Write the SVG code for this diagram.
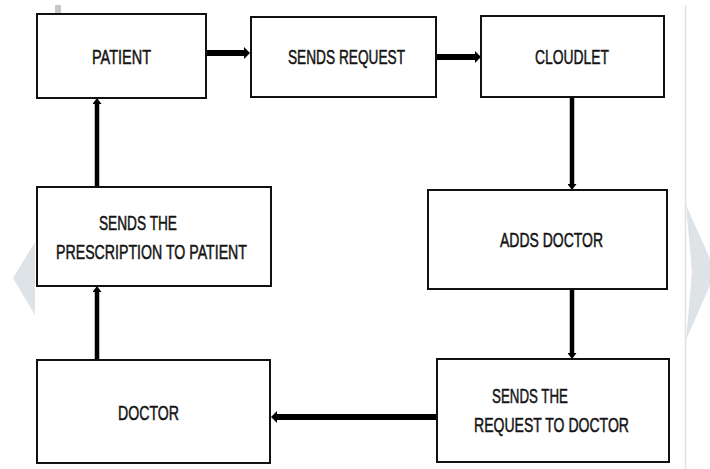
<svg xmlns="http://www.w3.org/2000/svg" width="710" height="469" viewBox="0 0 710 469">
<style>
.box{fill:#fff;stroke:#111;stroke-width:2}
.t{font-family:"Liberation Sans",Arial,sans-serif;font-size:20.5px;fill:#141414;stroke:#141414;stroke-width:0.5}
.h{stroke:#000;stroke-width:6;fill:none}
.v{stroke:#000;stroke-width:4.5;fill:none}
.deco{fill:#dde3e6}
</style>
<defs>
<marker id="ah" markerUnits="userSpaceOnUse" markerWidth="6" markerHeight="12" refX="0" refY="6" orient="auto" viewBox="0 0 6 12">
<path d="M0,0 L6,6 L0,12 z" fill="#000"/>
</marker>
<marker id="av" markerUnits="userSpaceOnUse" markerWidth="6" markerHeight="9" refX="0" refY="4.5" orient="auto" viewBox="0 0 6 9">
<path d="M0,0 L6,4.5 L0,9 z" fill="#000"/>
</marker>
</defs>
<g id="background">
<rect x="0" y="0" width="710" height="469" fill="#fff"/>
<polygon class="deco" points="35,242 13,278 35,315"/>
<polygon class="deco" points="686,205 716,272 686,340 692,272"/>
<line x1="685.5" y1="5" x2="685.5" y2="469" stroke="#e2e2e2" stroke-width="1.5"/>
<rect x="55" y="5" width="6" height="9" fill="#c8c8c8"/>
</g>
<g id="connectors">
<line class="h" x1="207" y1="53" x2="244" y2="53" marker-end="url(#ah)"/>
<line class="h" x1="437" y1="57" x2="475" y2="57" marker-end="url(#ah)"/>
<line class="v" x1="572" y1="98" x2="572" y2="184" marker-end="url(#av)"/>
<line class="v" x1="572" y1="290" x2="572" y2="353" marker-end="url(#av)"/>
<line class="h" x1="436" y1="417" x2="277" y2="417" marker-end="url(#ah)"/>
<line class="v" x1="97" y1="359" x2="97" y2="292" marker-end="url(#av)"/>
<line class="v" x1="97" y1="186" x2="97" y2="104" marker-end="url(#av)"/>
</g>
<g id="patient">
<rect class="box" x="37" y="14" width="169" height="84"/>
<text class="t" x="92" y="63.5" textLength="59" lengthAdjust="spacingAndGlyphs">PATIENT</text>
</g>
<g id="sends-request">
<rect class="box" x="251" y="17" width="185" height="80"/>
<text class="t" x="288" y="63.5" textLength="117" lengthAdjust="spacingAndGlyphs">SENDS REQUEST</text>
</g>
<g id="cloudlet">
<rect class="box" x="481" y="16" width="183" height="81"/>
<text class="t" x="535" y="63.5" textLength="74" lengthAdjust="spacingAndGlyphs">CLOUDLET</text>
</g>
<g id="adds-doctor">
<rect class="box" x="428" y="190" width="239" height="99"/>
<text class="t" x="500" y="247" textLength="103" lengthAdjust="spacingAndGlyphs">ADDS DOCTOR</text>
</g>
<g id="sends-request-to-doctor">
<rect class="box" x="437" y="359" width="232" height="103"/>
<text class="t" x="492" y="403" textLength="76" lengthAdjust="spacingAndGlyphs">SENDS THE</text>
<text class="t" x="474" y="432" textLength="155" lengthAdjust="spacingAndGlyphs">REQUEST TO DOCTOR</text>
</g>
<g id="doctor">
<rect class="box" x="37" y="360" width="233" height="103"/>
<text class="t" x="118" y="419.5" textLength="61" lengthAdjust="spacingAndGlyphs">DOCTOR</text>
</g>
<g id="sends-prescription">
<rect class="box" x="37" y="187" width="234" height="99"/>
<text class="t" x="99" y="230" textLength="78" lengthAdjust="spacingAndGlyphs">SENDS THE</text>
<text class="t" x="56" y="258.5" textLength="191" lengthAdjust="spacingAndGlyphs">PRESCRIPTION TO PATIENT</text>
</g>
</svg>
